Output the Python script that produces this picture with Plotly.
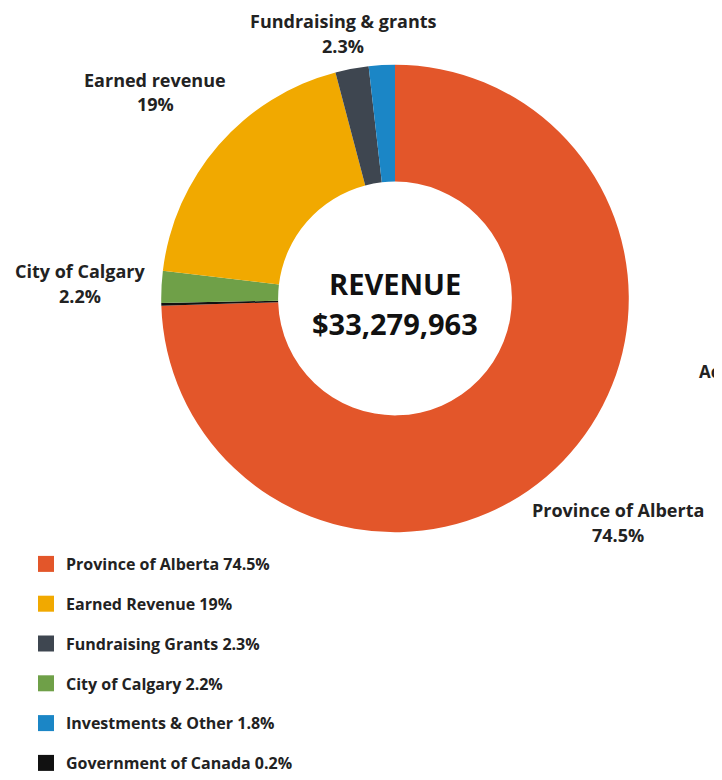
import plotly.graph_objects as go

# Slices, clockwise from 12 o'clock
slice_names = ["Province of Alberta", "Government of Canada", "City of Calgary",
               "Earned Revenue", "Fundraising Grants", "Investments & Other"]
slice_values = [74.5, 0.2, 2.2, 19.0, 2.3, 1.8]
slice_colors = ["#E3562A", "#111111", "#6FA048", "#F1A900", "#3E4650", "#1B86C6"]

# Legend (its own order)
legend_names = ["Province of Alberta", "Earned Revenue", "Fundraising Grants",
                "City of Calgary", "Investments & Other", "Government of Canada"]
legend_pcts = ["74.5%", "19%", "2.3%", "2.2%", "1.8%", "0.2%"]
legend_colors = ["#E3562A", "#F1A900", "#3E4650", "#6FA048", "#1B86C6", "#111111"]

# Callout labels around the ring
callout_names = ["Fundraising & grants", "Earned revenue", "City of Calgary", "Province of Alberta"]
callout_pcts = ["2.3%", "19%", "2.2%", "74.5%"]
callout_pos = [(343, 21), (155, 80), (80, 272), (618, 513)]  # page-pixel centres of first line

center_title = "REVENUE"
center_total = "$33,279,963"

# the page body has an 8px margin, so the figure is 8px smaller than the window
OFF = 8
W, H = 722 - OFF, 780 - OFF
FONT = "Open Sans"
INK = "#222222"


def px(x):
    return (x - OFF) / W


def py(y):
    return 1 - (y - OFF) / H


fig = go.Figure()

cx, cy, r = 395, 300, 235
fig.add_trace(go.Pie(
    labels=slice_names,
    values=slice_values,
    sort=False,
    direction="clockwise",
    rotation=0,
    hole=0.5,
    marker=dict(colors=slice_colors, line=dict(width=0)),
    textinfo="none",
    showlegend=False,
    domain=dict(x=[px(cx - r), px(cx + r)], y=[py(cy + r), py(cy - r)]),
))

# dummy traces so the legend can have its own order
for i, (name, pct, col) in enumerate(zip(legend_names, legend_pcts, legend_colors)):
    fig.add_trace(go.Scatter(
        x=[None], y=[None], mode="markers",
        name=f"{name} {pct}",
        legendgroup=f"g{i}",
        marker=dict(symbol="square", size=16, color=col),
    ))

anns = []
for name, pct, (lx, ly) in zip(callout_names, callout_pcts, callout_pos):
    anns.append(dict(x=px(lx), y=py(ly), text=name, showarrow=False,
                     xref="paper", yref="paper", xanchor="center", yanchor="middle",
                     font=dict(family=FONT, size=18, color=INK, weight="bold")))
    anns.append(dict(x=px(lx), y=py(ly + 25), text=pct, showarrow=False,
                     xref="paper", yref="paper", xanchor="center", yanchor="middle",
                     font=dict(family=FONT, size=18, color=INK, weight="bold")))

anns.append(dict(x=px(cx), y=py(285), text=center_title, showarrow=False,
                 xref="paper", yref="paper", xanchor="center", yanchor="middle",
                 font=dict(family=FONT, size=29, color="#111111", weight="bold")))
anns.append(dict(x=px(cx), y=py(325), text=center_total, showarrow=False,
                 xref="paper", yref="paper", xanchor="center", yanchor="middle",
                 font=dict(family=FONT, size=29, color="#111111", weight="bold")))
# label from a neighbouring chart, cut off in the source
anns.append(dict(x=1, y=py(373), text="Ac", showarrow=False,
                 xref="paper", yref="paper", xanchor="right", yanchor="middle",
                 font=dict(family=FONT, size=17, color=INK, weight="bold")))

fig.update_layout(
    width=W, height=H,
    margin=dict(l=0, r=0, t=0, b=0),
    paper_bgcolor="white", plot_bgcolor="white",
    xaxis=dict(visible=False), yaxis=dict(visible=False),
    annotations=anns,
    legend=dict(
        x=px(26), y=py(550), xanchor="left", yanchor="top",
        traceorder="grouped", tracegroupgap=16,
        font=dict(family=FONT, size=16, color=INK, weight="bold"),
        bgcolor="rgba(0,0,0,0)",
    ),
)

fig.write_html("out.html")
